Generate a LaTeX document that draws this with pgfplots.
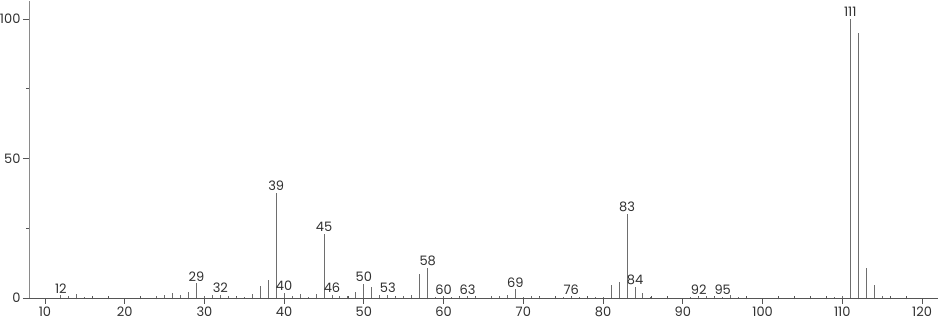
\documentclass[border=0pt]{standalone}
\usepackage{fontspec}
\setmainfont{Poppins}
\usepackage{pgfplots}
\pgfplotsset{compat=1.18}
\usepackage{pgfplotstable}
\definecolor{axgray}{HTML}{8A8A8A}
\definecolor{xgray}{HTML}{555555}
\definecolor{peak}{HTML}{6E6E6E}
\definecolor{txt}{HTML}{303030}
\pgfplotstableread{
mz inten
12 1.0
13 0.7
14 1.4
15 0.3
24 0.8
25 1.2
26 1.8
27 1.0
28 2.2
29 5.2
30 0.6
31 1.0
32 1.2
33 0.6
34 0.4
35 0.3
36 1.4
37 4.3
38 6.5
39 37.6
40 1.8
41 0.8
42 1.6
43 0.3
44 1.5
45 22.9
46 1.2
47 0.8
48 0.6
49 2.0
50 5.1
51 3.8
52 1.0
53 1.2
54 0.4
55 0.8
56 1.2
57 8.5
58 10.6
59 0.5
60 0.6
61 0.4
62 0.5
63 0.6
64 0.3
66 0.6
67 0.7
68 1.1
69 3.1
70 0.5
71 0.6
72 0.3
75 0.3
76 0.5
77 0.3
79 0.3
80 0.3
81 4.7
82 5.7
83 30.1
84 3.8
85 1.8
86 0.4
91 0.3
92 0.4
93 0.7
94 0.3
95 0.5
96 0.9
97 0.3
109 0.3
110 0.7
111 100
112 95.2
113 10.9
114 4.7
115 0.7
}\peaks
\pgfplotstableread{
mz inten
12 1.0
29 5.2
32 1.2
39 37.6
40 1.8
45 22.9
46 1.2
50 5.1
53 1.2
58 10.6
60 0.6
63 0.6
69 3.1
76 0.5
83 30.1
84 3.8
92 0.4
95 0.5
111 100
}\labelled
\begin{document}
\begin{tikzpicture}
\begin{axis}[
  scale only axis,
  width=909pt, height=297pt,
  xmin=8, xmax=122, ymin=0, ymax=106.5,
  axis lines=left,
  axis line style={draw=axgray, line width=0.9pt, -},
  x axis line style={draw=xgray},
  xtick={10,20,...,120},
  minor x tick num=4,
  ytick={0,50,100},
  minor ytick={25,75},
  tick align=outside,
  major tick length=6pt,
  minor tick length=3pt,
  tick style={color=xgray, line width=0.8pt},
  minor x tick style={yshift=1.5pt},
  ticklabel style={font=\fontsize{13}{13}\selectfont, text=txt},
  xticklabel style={yshift=1pt},
  yticklabel style={xshift=1pt},
  /pgf/number format/assume math mode=true,
  clip=false,
]
\addplot[ycomb, draw=peak, line width=1pt, mark=none] table[x=mz, y=inten] {\peaks};
\addplot[draw=none, mark=none,
  nodes near coords={\pgfmathprintnumber[fixed,precision=0,1000 sep={}]{\pgfplotspointmeta}},
  point meta=x,
  every node near coord/.style={font=\fontsize{13}{13}\selectfont, text=txt, anchor=south, inner sep=1pt, yshift=1pt}
] table[x=mz, y=inten] {\labelled};
\end{axis}
\pgfresetboundingbox
\useasboundingbox (-29pt,-22pt) rectangle (911pt,298pt);
\end{tikzpicture}
\end{document}
